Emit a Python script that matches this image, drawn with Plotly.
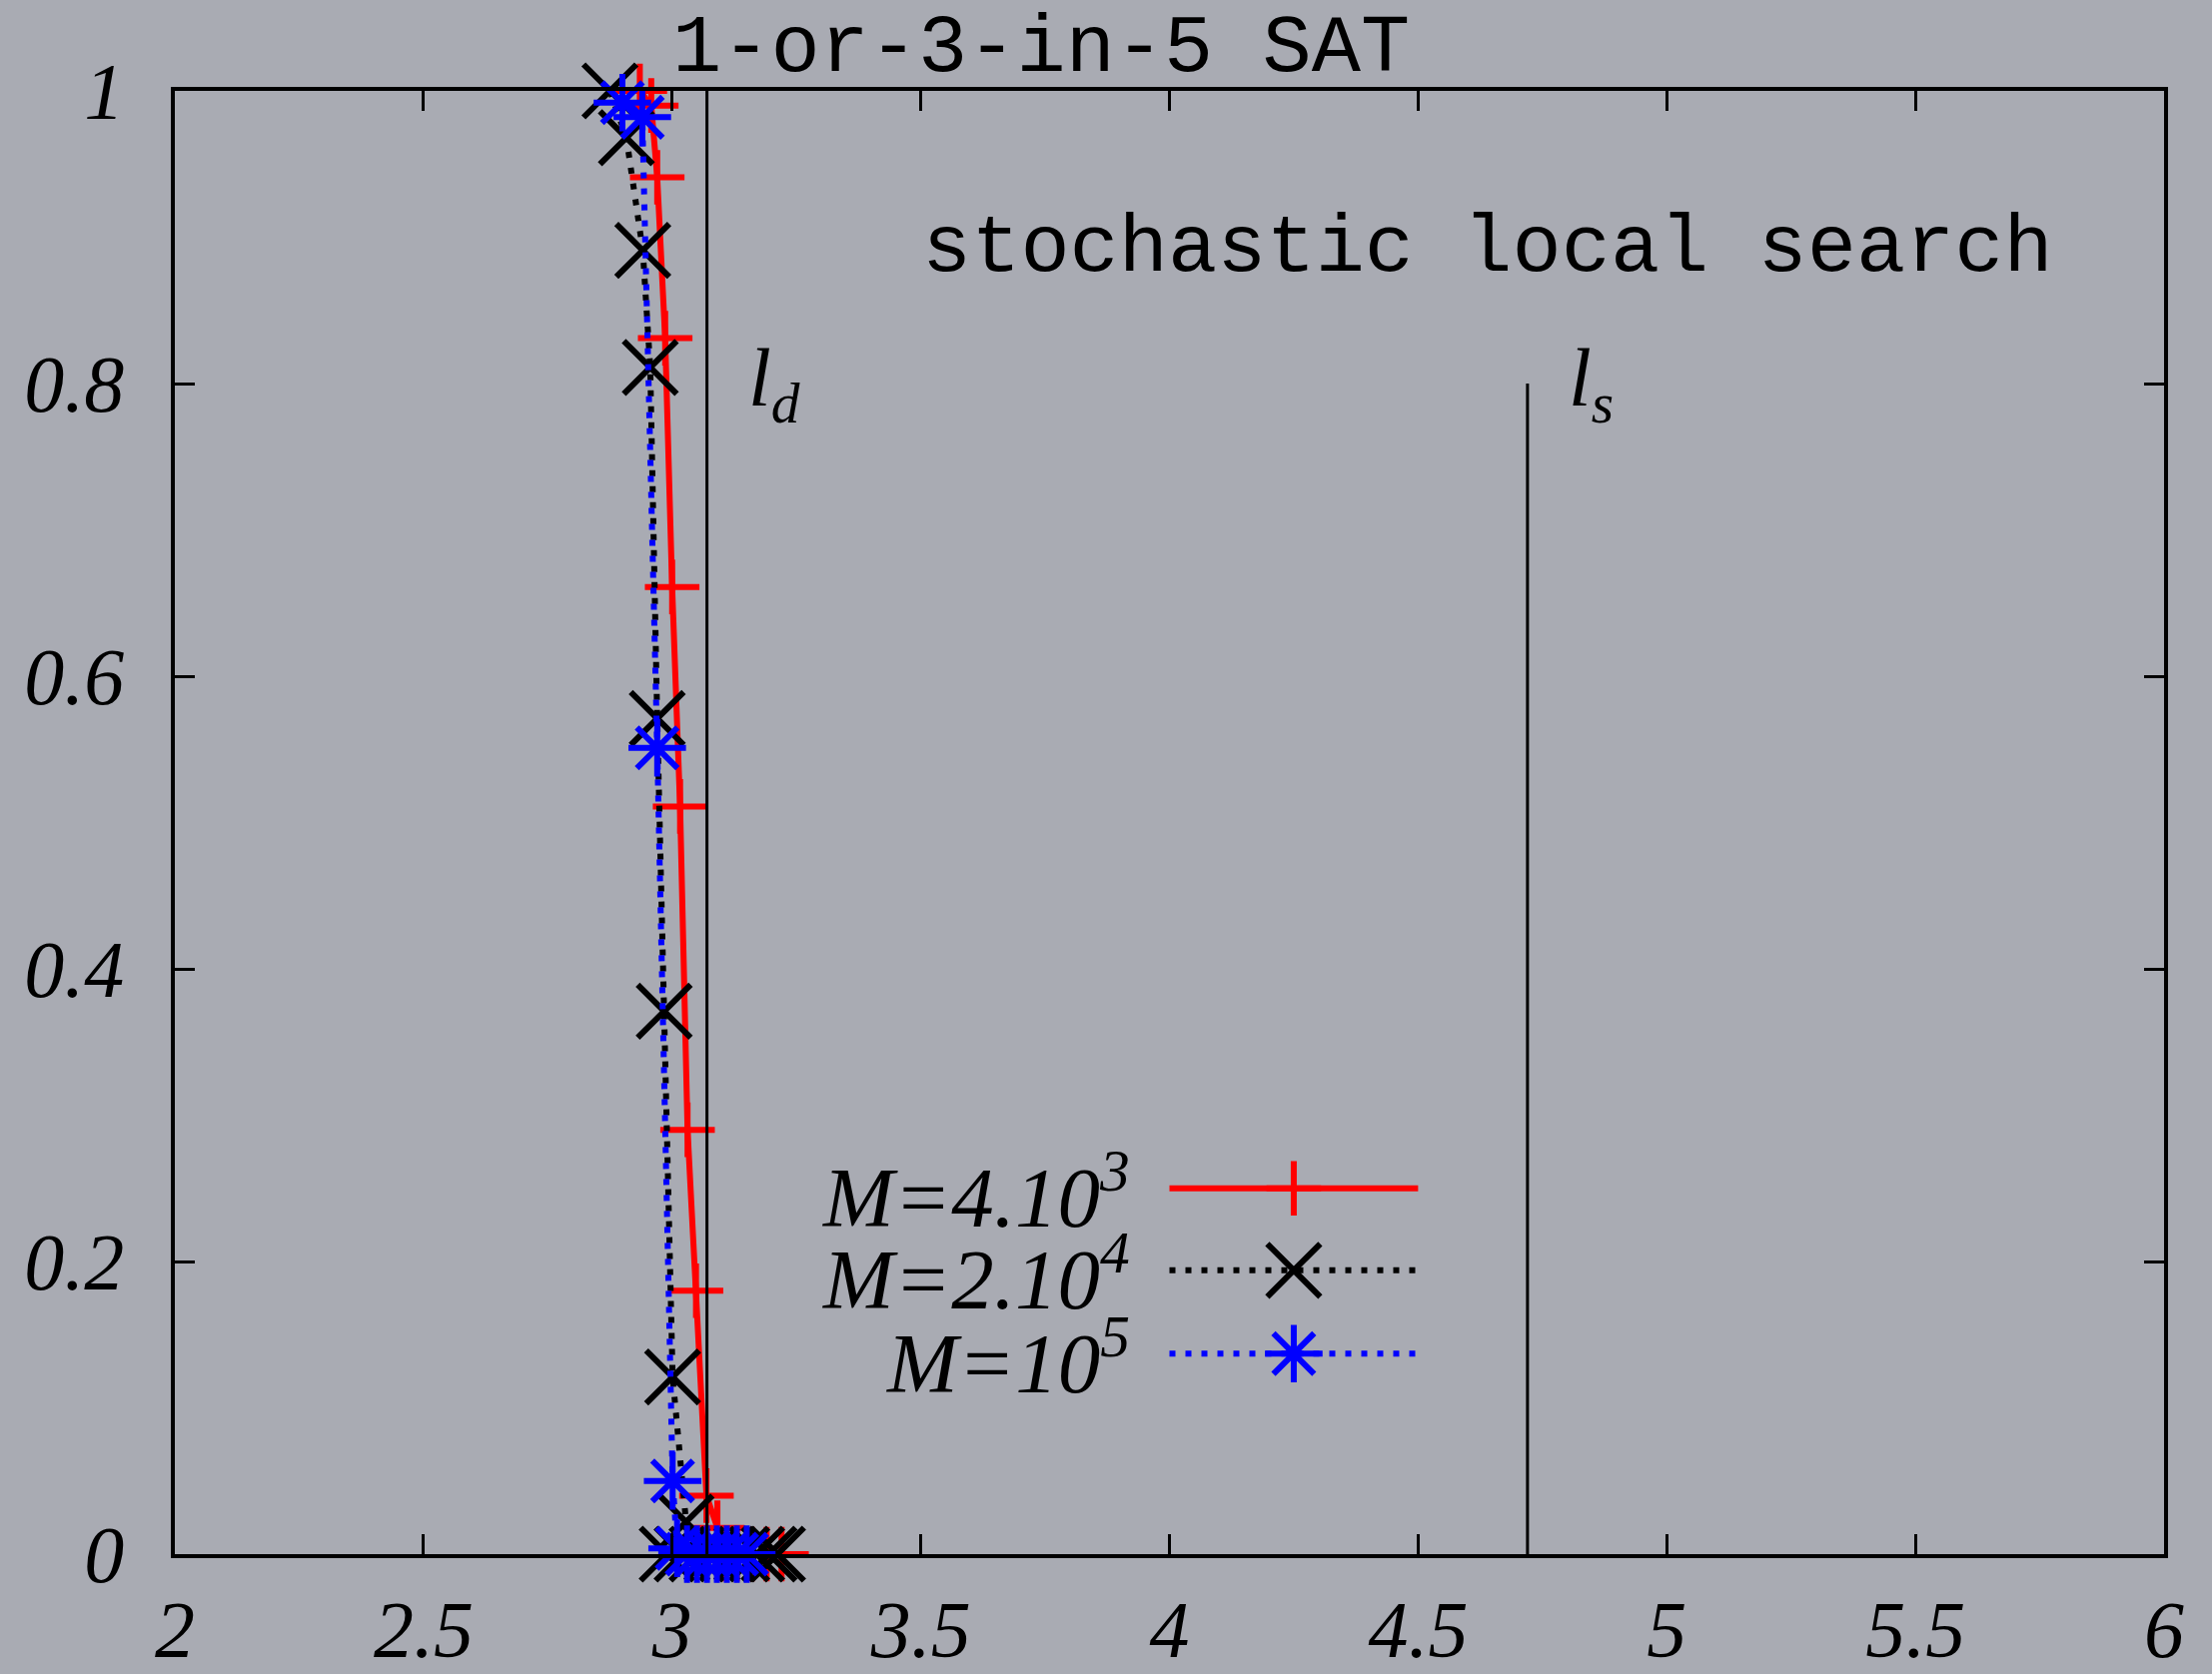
import plotly.graph_objects as go

# ---------------- data ----------------
x_red = [2.935, 2.958, 2.970, 2.986, 3.000, 3.016, 3.031, 3.048, 3.069, 3.091, 3.100, 3.130, 3.160, 3.190, 3.220]
y_red = [1.000, 0.990, 0.941, 0.831, 0.661, 0.511, 0.290, 0.180, 0.040, 0.018, 0.0, 0.0, 0.0, 0.0, 0.0]

x_black = [2.875, 2.908, 2.941, 2.956, 2.970, 2.984, 3.001, 3.028, 2.990, 3.020, 3.050, 3.080, 3.110, 3.140, 3.170, 3.195, 3.212]
y_black = [1.000, 0.968, 0.891, 0.811, 0.571, 0.371, 0.121, 0.022, 0.0, 0.0, 0.0, 0.0, 0.0, 0.0, 0.0, 0.0, 0.0]

x_blue = [2.900, 2.940, 2.970, 3.001, 3.010, 3.030, 3.050, 3.070, 3.090, 3.110, 3.130, 3.150]
y_blue = [0.992, 0.982, 0.551, 0.050, 0.004, 0.0, 0.0, 0.0, 0.0, 0.0, 0.0, 0.0]

series_names = ["M=4.10<sup>3</sup>", "M=2.10<sup>4</sup>", "M=10<sup>5</sup>"]

l_d = 3.07
l_s = 4.72
l_s_top = 0.8

x_ticks = [2, 2.5, 3, 3.5, 4, 4.5, 5, 5.5, 6]
x_ticktext = ["2", "2.5", "3", "3.5", "4", "4.5", "5", "5.5", "6"]
y_ticks = [0, 0.2, 0.4, 0.6, 0.8, 1]
y_ticktext = ["0", "0.2", "0.4", "0.6", "0.8", "1"]

title_text = "1-or-3-in-5 SAT"
subtitle_text = "stochastic local search"

# ---------------- styles ----------------
BG = "#a9abb3"
SERIF = "Liberation Serif"
MONO = "Liberation Mono"
DOT = "6px,10px"

styles = [
    dict(color="red", dash="solid", width=6, symbol="cross-thin", size=39, mlw=6),
    dict(color="black", dash=DOT, width=6, symbol="x-thin", size=53, mlw=6),
    dict(color="blue", dash=DOT, width=6, symbol="asterisk", size=48, mlw=6),
]

fig = go.Figure()

for (xs, ys, st) in zip([x_red, x_black, x_blue], [y_red, y_black, y_blue], styles):
    fig.add_trace(go.Scatter(
        x=xs, y=ys, mode="lines+markers", cliponaxis=False, showlegend=False,
        line=dict(color=st["color"], width=st["width"], dash=st["dash"]),
        marker=dict(symbol=st["symbol"], size=st["size"], color=st["color"],
                    line=dict(color=st["color"], width=st["mlw"])),
    ))

# legend (drawn manually, gnuplot style: text left, sample right)
leg_x0, leg_x1 = 4.0, 4.5
leg_ys = [0.250, 0.194, 0.137]
leg_text_x = 3.925
for name, st, ly in zip(series_names, styles, leg_ys):
    fig.add_trace(go.Scatter(
        x=[leg_x0, leg_x1], y=[ly, ly], mode="lines", showlegend=False, cliponaxis=False,
        line=dict(color=st["color"], width=st["width"], dash=st["dash"]),
    ))
    fig.add_trace(go.Scatter(
        x=[(leg_x0 + leg_x1) / 2], y=[ly], mode="markers", showlegend=False, cliponaxis=False,
        marker=dict(symbol=st["symbol"], size=st["size"], color=st["color"],
                    line=dict(color=st["color"], width=st["mlw"])),
    ))
    fig.add_annotation(
        x=leg_text_x, y=ly - 0.002, xref="x", yref="y", text=name, showarrow=False,
        xanchor="right", yanchor="middle",
        font=dict(family=SERIF, size=85, color="black", style="italic"),
    )

# vertical marker lines
fig.add_shape(type="line", xref="x", yref="y", x0=l_d, x1=l_d, y0=0, y1=1,
              line=dict(color="black", width=3))
fig.add_shape(type="line", xref="x", yref="y", x0=l_s, x1=l_s, y0=0, y1=l_s_top,
              line=dict(color="black", width=3))

fig.add_annotation(x=3.150, y=0.800, xref="x", yref="y", text="l<sub>d</sub>",
                   showarrow=False, xanchor="left", yanchor="middle",
                   font=dict(family=SERIF, size=82, color="black", style="italic"))
fig.add_annotation(x=4.798, y=0.800, xref="x", yref="y", text="l<sub>s</sub>",
                   showarrow=False, xanchor="left", yanchor="middle",
                   font=dict(family=SERIF, size=82, color="black", style="italic"))

fig.add_annotation(x=4.640, y=0.892, xref="x", yref="y", text=subtitle_text,
                   showarrow=False, xanchor="center", yanchor="middle",
                   font=dict(family=MONO, size=82, color="black"))

axis_common = dict(
    showline=True, linecolor="black", linewidth=3.5, mirror="ticks",
    ticks="inside", ticklen=20, tickwidth=2.5, tickcolor="black",
    showgrid=False, zeroline=False, automargin=False,
    tickfont=dict(family=SERIF, size=80, color="black", style="italic"),
)

fig.update_layout(
    width=2214, height=1676,
    paper_bgcolor=BG, plot_bgcolor=BG,
    margin=dict(l=175, r=48, t=91, b=120, autoexpand=False),
    title=dict(text=title_text, x=0.4355, xref="paper", xanchor="center",
               y=1 - 42 / 1676, yref="container", yanchor="middle",
               font=dict(family=MONO, size=82, color="black")),
    xaxis=dict(range=[2, 6], tickvals=x_ticks, ticktext=x_ticktext,
               ticklabelstandoff=3, **axis_common),
    yaxis=dict(range=[0, 1], tickvals=y_ticks, ticktext=y_ticktext,
               ticklabelstandoff=31, **axis_common),
)

fig.write_html(
    "out.html",
    config={"displayModeBar": False},
    post_script="document.body.style.margin='0';document.body.style.padding='0';"
                "document.body.style.background='" + BG + "';"
                "document.documentElement.style.overflow='hidden';",
)
